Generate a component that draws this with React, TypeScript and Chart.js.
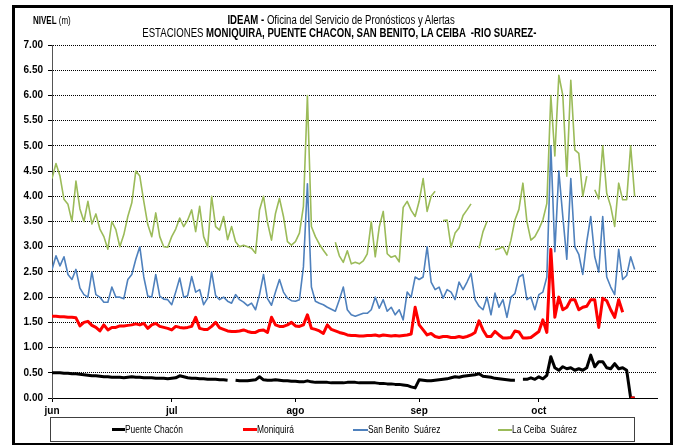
import React, { useEffect, useRef } from 'react';
import { Chart, registerables } from 'chart.js';

Chart.register(...registerables);

// Day index 0 = 1 June; one value per day
const monthLabels = ['jun', 'jul', 'ago', 'sep', 'oct'];
const monthStartDays = [0, 30, 61, 92, 122];
const yTicks = [0, 0.5, 1, 1.5, 2, 2.5, 3, 3.5, 4, 4.5, 5, 5.5, 6, 6.5, 7];

const puenteChacon: (number | null)[] = [
  0.50, 0.50, 0.50, 0.49, 0.49, 0.48, 0.48, 0.47, 0.46, 0.45,
  0.44, 0.44, 0.43, 0.42, 0.42, 0.41, 0.41, 0.41, 0.40, 0.41,
  0.42, 0.41, 0.41, 0.40, 0.40, 0.40, 0.39, 0.39, 0.39, 0.38,
  0.39, 0.40, 0.44, 0.42, 0.40, 0.39, 0.39, 0.38, 0.38, 0.37,
  0.37, 0.37, 0.36, 0.36, 0.35, null, 0.35, 0.34, 0.34, 0.34,
  0.35, 0.36, 0.42, 0.36, 0.35, 0.35, 0.36, 0.35, 0.34, 0.34,
  0.33, 0.33, 0.32, 0.32, 0.34, 0.32, 0.31, 0.31, 0.31, 0.31,
  0.30, 0.30, 0.30, 0.30, 0.31, 0.31, 0.31, 0.30, 0.30, 0.30,
  0.30, 0.30, 0.29, 0.29, 0.28, 0.28, 0.27, 0.27, 0.26, 0.25,
  0.22, 0.20, 0.36, 0.35, 0.34, 0.34, 0.35, 0.36, 0.37, 0.38,
  0.40, 0.42, 0.41, 0.43, 0.44, 0.45, 0.46, 0.48, 0.43, 0.42,
  0.41, 0.39, 0.38, 0.37, 0.36, 0.35, 0.35, null, 0.37, 0.37,
  0.40, 0.37, 0.42, 0.38, 0.45, 0.82, 0.60, 0.55, 0.62, 0.58,
  0.60, 0.55, 0.58, 0.55, 0.60, 0.85, 0.62, 0.72, 0.72, 0.60,
  0.58, 0.68, 0.58, 0.60, 0.55, 0.00, 0.00,
];

const moniquira: (number | null)[] = [
  1.62, 1.62, 1.61, 1.61, 1.60, 1.60, 1.59, 1.43, 1.50, 1.52,
  1.44, 1.40, 1.33, 1.45, 1.35, 1.40, 1.40, 1.43, 1.43, 1.44,
  1.45, 1.47, 1.45, 1.48, 1.38, 1.45, 1.48, 1.42, 1.40, 1.38,
  1.35, 1.42, 1.40, 1.39, 1.40, 1.42, 1.60, 1.38, 1.36, 1.36,
  1.42, 1.50, 1.39, 1.36, 1.33, 1.32, 1.32, 1.33, 1.35, 1.32,
  1.30, 1.30, 1.34, 1.35, 1.30, 1.60, 1.45, 1.42, 1.42, 1.45,
  1.50, 1.43, 1.42, 1.45, 1.65, 1.38, 1.36, 1.33, 1.28, 1.45,
  1.36, 1.33, 1.30, 1.28, 1.25, 1.24, 1.24, 1.23, 1.23, 1.24,
  1.24, 1.25, 1.23, 1.25, 1.24, 1.23, 1.24, 1.23, 1.24, 1.25,
  1.27, 1.80, 1.45, 1.35, 1.25, 1.28, 1.22, 1.20, 1.22, 1.22,
  1.20, 1.20, 1.22, 1.20, 1.22, 1.25, 1.30, 1.53, 1.35, 1.22,
  1.22, 1.32, 1.25, 1.19, 1.19, 1.20, 1.33, 1.31, 1.19, 1.19,
  1.20, 1.26, 1.32, 1.55, 1.30, 2.95, 1.60, 2.00, 1.75, 1.80,
  1.95, 1.95, 1.75, 1.80, 1.82, 1.95, 1.95, 1.40, 1.98, 1.93,
  1.75, 1.60, 1.95, 1.70, null, 0.00, 0.00,
];

const sanBenito: (number | null)[] = [
  2.55, 2.82, 2.62, 2.80, 2.45, 2.35, 2.55, 2.18, 2.05, 2.00,
  2.50, 2.05, 2.00, 1.90, 1.90, 2.20, 2.00, 2.00, 1.97, 2.35,
  2.45, 2.75, 3.00, 2.40, 2.02, 2.00, 2.45, 2.02, 1.96, 1.95,
  1.85, 2.10, 2.38, 2.00, 2.03, 2.41, 2.10, 2.15, 1.85, 1.98,
  2.50, 2.03, 1.95, 2.00, 1.92, 1.88, 2.05, 1.95, 1.90, 1.83,
  1.88, 1.75, 2.05, 2.45, 1.97, 1.84, 2.10, 2.35, 2.10, 1.98,
  1.93, 1.92, 1.95, 2.60, 4.25, 2.20, 1.92, 1.88, 1.85, 1.80,
  1.76, 1.72, 1.95, 2.20, 1.75, 1.65, 1.62, 1.65, 1.68, 1.68,
  1.75, 2.00, 1.78, 1.95, 1.72, 1.80, 1.65, 1.75, 1.55, 2.10,
  2.00, 2.40, 2.35, 2.40, 3.00, 2.30, 2.15, 2.20, 1.98, 2.15,
  2.10, 1.95, 2.30, 2.15, 2.30, 2.47, 1.95, 1.82, 1.75, 2.00,
  1.65, 2.08, 1.80, 1.95, 1.60, 2.00, 2.07, 2.40, 2.45, 1.95,
  2.00, 1.75, 2.05, 2.10, 2.40, 5.00, 2.90, 4.50, 3.60, 2.75,
  4.35, 3.00, 2.85, 2.45, 3.10, 3.60, 2.80, 2.50, 3.60, 2.40,
  2.20, 2.05, 2.95, 2.35, 2.43, 2.80, 2.55,
];

const laCeiba: (number | null)[] = [
  4.35, 4.65, 4.40, 3.94, 3.84, 3.50, 4.30, 3.75, 3.50, 3.90,
  3.45, 3.65, 3.35, 3.20, 2.95, 3.50, 3.34, 3.00, 3.24, 3.60,
  3.87, 4.50, 4.40, 3.90, 3.44, 3.20, 3.67, 3.20, 3.00, 2.99,
  3.20, 3.35, 3.57, 3.40, 3.53, 3.73, 3.30, 3.80, 3.20, 3.00,
  4.00, 3.40, 3.33, 3.60, 3.14, 3.40, 3.10, 3.00, 3.03, 3.00,
  2.97, 2.87, 3.73, 4.00, 3.48, 3.13, 3.66, 3.96, 3.60, 3.10,
  3.03, 3.10, 3.27, 3.80, 6.00, 3.40, 3.20, 3.05, 2.93, 2.82,
  null, 3.09, 2.82, 2.69, 2.92, 2.66, 2.69, 2.66, 2.72, 2.86,
  3.50, 2.80, 3.39, 3.70, 2.86, 2.79, 2.82, 2.70, 3.78, 3.90,
  3.72, 3.60, 3.90, 4.35, 3.70, 4.00, 4.10, null, 3.52, 3.53,
  2.99, 3.27, 3.37, 3.62, 3.73, 3.85, null, 2.97, 3.30, 3.50,
  null, 2.94, 2.96, 3.00, 2.84, 3.13, 3.53, 3.74, 4.26, 3.50,
  3.13, 3.20, 3.35, 3.53, 3.86, 6.00, 4.80, 6.40, 6.00, 4.40,
  6.30, 4.92, 4.85, 4.00, 4.40, null, 4.13, 3.95, 5.00, 4.06,
  3.80, 3.40, 4.26, 3.93, 3.93, 5.00, 4.00,
];

const seriesNames = ['Puente Chacón', 'Moniquirá', 'San Benito  Suárez', 'La Ceiba  Suárez'];
const seriesColors = ['#000000', '#FF0000', '#4F81BD', '#9BBB59'];
const seriesWidths = [3, 3, 1.6, 1.6];
const seriesValues = [puenteChacon, moniquira, sanBenito, laCeiba];

const FONT = '"Liberation Sans Narrow", "Arial Narrow", "Liberation Sans", Arial, sans-serif';
const NARROW = 0.8;

export default function App() {
  const canvasRef = useRef<HTMLCanvasElement | null>(null);

  useEffect(() => {
    const canvas = canvasRef.current;
    if (!canvas) return;
    const chart = new Chart(canvas, {
      type: 'line',
      data: {
        datasets: seriesValues.map((vals, k) => ({
          label: seriesNames[k],
          data: vals.map((v, i) => ({ x: i, y: v })) as any,
          borderColor: seriesColors[k],
          backgroundColor: seriesColors[k],
          borderWidth: seriesWidths[k],
          pointRadius: 0,
          tension: 0,
          spanGaps: false,
          borderJoinStyle: 'round' as const,
          order: 3 - k,
        })),
      },
      options: {
        responsive: false,
        animation: false,
        events: [],
        layout: { padding: { top: 45, right: 22, left: 0, bottom: 0 } },
        plugins: {
          legend: { display: false },
          tooltip: { enabled: false },
          title: { display: false },
        },
        scales: {
          x: {
            type: 'linear',
            min: 0,
            max: 151.6,
            afterBuildTicks: (s: any) => {
              s.ticks = monthStartDays.map((v) => ({ value: v }));
            },
            afterFit: (s: any) => {
              s.height = 47;
            },
            grid: { drawOnChartArea: false, drawTicks: true, tickLength: 4, color: '#000' },
            border: { color: '#000', width: 1 },
            ticks: {
              autoSkip: false,
              maxRotation: 0,
              padding: 3,
              color: '#000',
              font: { family: FONT, size: 10, weight: 'bold' },
              callback: (v: any) => {
                const i = monthStartDays.indexOf(Number(v));
                return i >= 0 ? monthLabels[i] : '';
              },
            },
          },
          y: {
            min: 0,
            max: 7,
            afterBuildTicks: (s: any) => {
              s.ticks = yTicks.map((v) => ({ value: v }));
            },
            afterFit: (s: any) => {
              s.width = 52;
            },
            grid: { color: '#000', lineWidth: 1, tickLength: 4, tickColor: '#000' },
            border: { color: '#555', width: 1, dash: [1, 1] },
            ticks: {
              padding: 5,
              color: '#000',
              font: { family: FONT, size: 10, weight: 'bold' },
              callback: (v: any) => Number(v).toFixed(2),
            },
          },
        },
      },
    });
    return () => chart.destroy();
  }, []);

  const legendItems = [
    { lx: 112, lw: 13, tx: 125 },
    { lx: 243, lw: 14, tx: 257 },
    { lx: 353, lw: 15, tx: 368 },
    { lx: 498, lw: 14, tx: 512 },
  ];

  const narrowLeft: React.CSSProperties = {
    display: 'inline-block',
    transform: `scaleX(${NARROW})`,
    transformOrigin: 'left center',
  };
  const narrowCenter: React.CSSProperties = {
    display: 'inline-block',
    transform: `scaleX(${NARROW})`,
    transformOrigin: 'center center',
  };

  return (
    <div style={{ position: 'fixed', left: 0, top: 0, width: 679, height: 445, background: '#fff', overflow: 'hidden' }}>
      <div
        style={{
          position: 'absolute',
          left: 12,
          top: 5,
          width: 661,
          height: 441,
          border: '3px solid #000',
          boxSizing: 'border-box',
        }}
      />
      <canvas ref={canvasRef} width={679} height={445} style={{ position: 'absolute', left: 0, top: 0, width: 679, height: 445 }} />
      <div style={{ position: 'absolute', left: 33, top: 15, fontFamily: FONT, fontSize: 10, lineHeight: '12px', color: '#000', whiteSpace: 'pre' }}>
        <span style={narrowLeft}>
          <b>NIVEL</b> (m)
        </span>
      </div>
      <div
        style={{
          position: 'absolute',
          left: 0,
          width: 679,
          top: 14,
          textAlign: 'center',
          fontFamily: FONT,
          fontSize: 12,
          lineHeight: '13px',
          color: '#000',
          whiteSpace: 'pre',
        }}
      >
        <div style={{ paddingLeft: 4 }}>
          <span style={narrowCenter}>
            <b>IDEAM - </b>Oficina del Servicio de Pronósticos y Alertas
          </span>
        </div>
        <div style={{ paddingLeft: 0 }}>
          <span style={narrowCenter}>
            ESTACIONES <b>MONIQUIRA, PUENTE CHACON, SAN BENITO, LA CEIBA  -RIO SUAREZ-</b>
          </span>
        </div>
      </div>
      <div
        style={{
          position: 'absolute',
          left: 50,
          top: 417,
          width: 585,
          height: 25,
          border: '1px solid #404040',
          boxSizing: 'border-box',
        }}
      />
      {legendItems.map((it, k) => (
        <React.Fragment key={k}>
          <div
            style={{
              position: 'absolute',
              left: it.lx,
              top: 430 - Math.round(seriesWidths[k] / 2),
              width: it.lw,
              height: Math.max(2, Math.round(seriesWidths[k])),
              background: seriesColors[k],
            }}
          />
          <div
            style={{
              position: 'absolute',
              left: it.tx,
              top: 423,
              fontFamily: FONT,
              fontSize: 10,
              lineHeight: '14px',
              color: '#000',
              whiteSpace: 'pre',
            }}
          >
            <span style={{ ...narrowLeft, transform: 'scaleX(0.84)' }}>{seriesNames[k]}</span>
          </div>
        </React.Fragment>
      ))}
    </div>
  );
}
